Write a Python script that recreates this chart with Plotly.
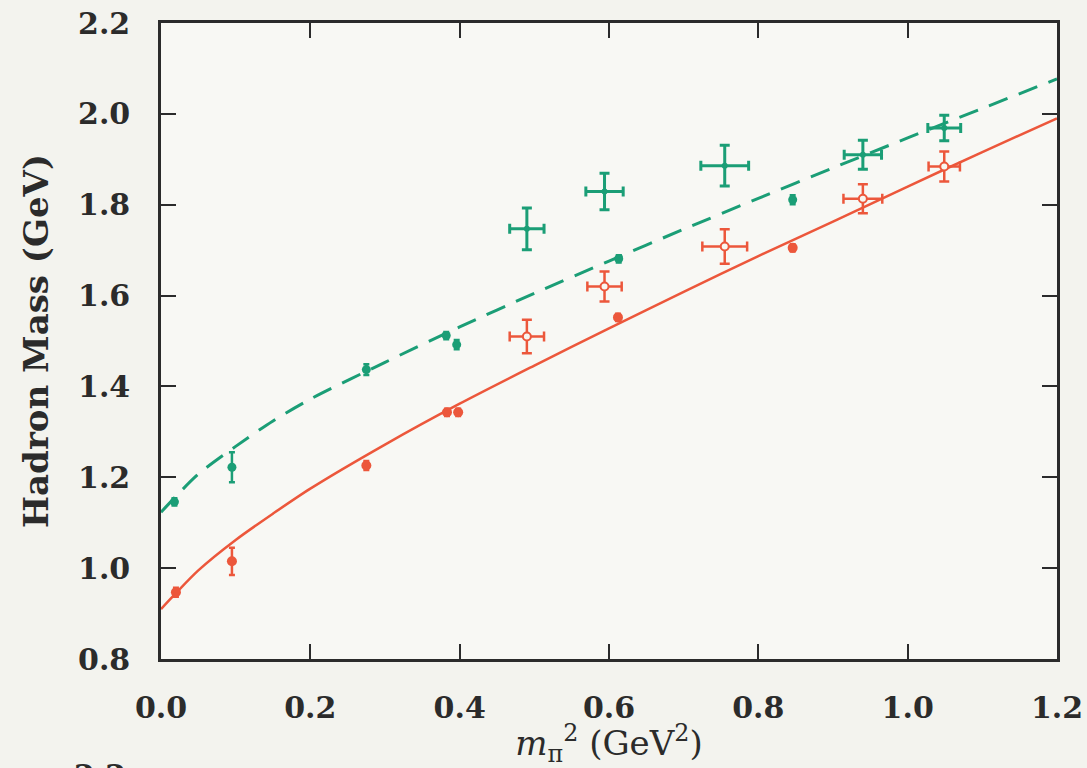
import plotly.graph_objects as go

# fitted curves
x_fit = [0, 0.02, 0.05, 0.1, 0.15, 0.2, 0.3, 0.4, 0.5, 0.6, 0.7, 0.8, 0.9, 1.0, 1.1, 1.2]
red_fit = [0.91, 0.945, 0.995, 1.062, 1.12, 1.175, 1.272, 1.362, 1.446, 1.528, 1.608, 1.687, 1.763, 1.840, 1.916, 1.990]
green_fit = [1.123, 1.158, 1.207, 1.268, 1.324, 1.372, 1.453, 1.531, 1.605, 1.676, 1.746, 1.814, 1.881, 1.947, 2.012, 2.077]

# red filled points
red_fill_x = [0.02, 0.095, 0.275, 0.383, 0.398, 0.612, 0.846]
red_fill_y = [0.947, 1.015, 1.226, 1.343, 1.343, 1.552, 1.705]
red_fill_err = [0.01, 0.03, 0.01, 0.008, 0.008, 0.008, 0.008]

# red open points with cross error bars
red_open_x = [0.490, 0.594, 0.755, 0.940, 1.049]
red_open_y = [1.510, 1.620, 1.708, 1.813, 1.884]
red_open_xerr = [0.023, 0.023, 0.030, 0.026, 0.021]
red_open_yerr = [0.037, 0.033, 0.038, 0.032, 0.033]

# green filled points
green_fill_x = [0.018, 0.095, 0.275, 0.382, 0.396, 0.613, 0.846]
green_fill_y = [1.146, 1.222, 1.437, 1.512, 1.492, 1.681, 1.811]
green_fill_err = [0.008, 0.033, 0.012, 0.008, 0.01, 0.008, 0.01]

# green crosses
green_open_x = [0.490, 0.594, 0.755, 0.940, 1.049]
green_open_y = [1.747, 1.829, 1.886, 1.910, 1.969]
green_open_xerr = [0.023, 0.025, 0.032, 0.025, 0.022]
green_open_yerr = [0.046, 0.040, 0.045, 0.032, 0.028]

x_ticks = [0.0, 0.2, 0.4, 0.6, 0.8, 1.0, 1.2]
x_tick_text = ["0.0", "0.2", "0.4", "0.6", "0.8", "1.0", "1.2"]
y_ticks = [0.8, 1.0, 1.2, 1.4, 1.6, 1.8, 2.0, 2.2]
y_tick_text = ["0.8", "1.0", "1.2", "1.4", "1.6", "1.8", "2.0", "2.2"]

RED = "#EC573B"
GREEN = "#1B9E76"
FONT = "DejaVu Serif"
INK = "#2b2b2b"

fig = go.Figure()

fig.add_trace(go.Scatter(x=x_fit, y=green_fit, mode="lines", line_shape="spline",
                         line=dict(color=GREEN, width=3, dash="20px,12px", smoothing=0.8), showlegend=False))
fig.add_trace(go.Scatter(x=x_fit, y=red_fit, mode="lines", line_shape="spline",
                         line=dict(color=RED, width=2.5, smoothing=0.8), showlegend=False))

fig.add_trace(go.Scatter(x=green_fill_x, y=green_fill_y, mode="markers",
                         marker=dict(color=GREEN, size=9, symbol="circle"),
                         error_y=dict(type="data", array=green_fill_err, color=GREEN, thickness=2.5, width=3),
                         showlegend=False))
fig.add_trace(go.Scatter(x=red_fill_x, y=red_fill_y, mode="markers",
                         marker=dict(color=RED, size=10, symbol="circle"),
                         error_y=dict(type="data", array=red_fill_err, color=RED, thickness=2.5, width=3),
                         showlegend=False))

fig.add_trace(go.Scatter(x=green_open_x, y=green_open_y, mode="markers",
                         marker=dict(color=GREEN, size=6, symbol="circle"),
                         error_x=dict(type="data", array=green_open_xerr, color=GREEN, thickness=3, width=5),
                         error_y=dict(type="data", array=green_open_yerr, color=GREEN, thickness=3, width=5),
                         showlegend=False))
fig.add_trace(go.Scatter(x=red_open_x, y=red_open_y, mode="markers",
                         marker=dict(color="#F8F6F0", size=8, symbol="circle",
                                     line=dict(color=RED, width=2)),
                         error_x=dict(type="data", array=red_open_xerr, color=RED, thickness=2.5, width=5),
                         error_y=dict(type="data", array=red_open_yerr, color=RED, thickness=2.5, width=5),
                         showlegend=False))

axis_common = dict(showgrid=False, zeroline=False, showline=True, linecolor=INK, linewidth=2.5,
                   mirror="ticks", ticks="inside", ticklen=15, tickwidth=2, tickcolor=INK,
                   tickfont=dict(family=FONT, size=30, color=INK, weight="bold"))

fig.update_xaxes(range=[0, 1.2], tickvals=x_ticks, ticktext=x_tick_text, ticklabelstandoff=20,
                 title=dict(text="<i>m</i><sub>π</sub><sup>2</sup> (GeV<sup>2</sup>)",
                            font=dict(family=FONT, size=34, color=INK), standoff=8),
                 **axis_common)
fig.update_yaxes(range=[0.8, 2.2], tickvals=y_ticks, ticktext=y_tick_text, ticklabelstandoff=22,
                 title=dict(text="<b>Hadron Mass (GeV)</b>",
                            font=dict(family=FONT, size=34, color=INK), standoff=20),
                 **axis_common)

fig.add_annotation(text="<b>2.2</b>", xref="paper", yref="paper", x=-0.068, y=-0.183,
                   xanchor="center", yanchor="middle", showarrow=False,
                   font=dict(family=FONT, size=30, color=INK))

fig.update_layout(width=1087, height=768, margin=dict(l=161, r=30, t=23, b=109, autoexpand=False),
                  paper_bgcolor="#F3F3EE", plot_bgcolor="#F8F8F4")

fig.write_html("out.html")
